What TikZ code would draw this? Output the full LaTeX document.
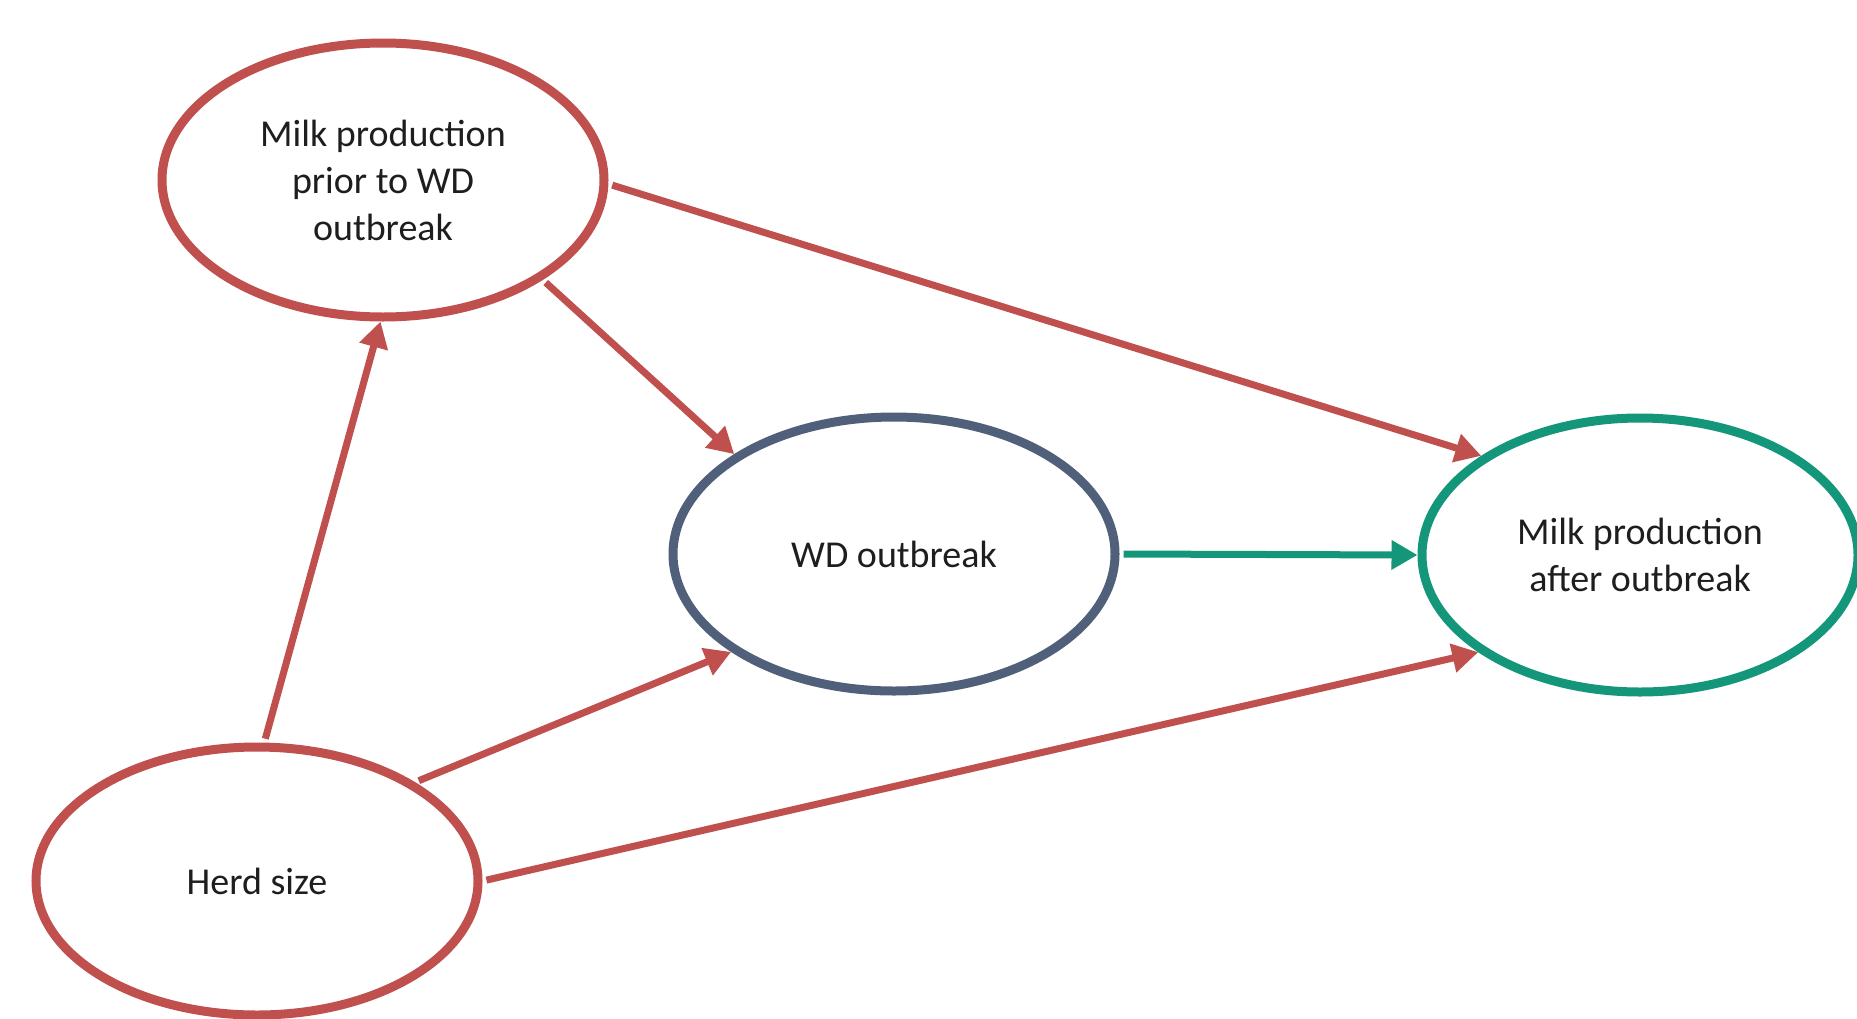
\documentclass[tikz,border=0pt]{standalone}
\usepackage{fontspec}
\setmainfont{Carlito}
\usetikzlibrary{arrows.meta,shapes.geometric}
\definecolor{linkred}{RGB}{192,80,77}
\definecolor{slate}{RGB}{80,96,122}
\definecolor{teal}{RGB}{20,150,122}
\definecolor{textdark}{RGB}{30,30,30}
\pgfdeclarelayer{back}
\pgfsetlayers{back,main}
\begin{document}
\begin{tikzpicture}[x=1pt,y=-1pt,
  var/.style={ellipse, draw=linkred, line width=9pt, fill=white, inner sep=0pt,
    align=center, text=textdark, font=\fontsize{38}{47}\selectfont,
    minimum width=442pt, minimum height=274pt},
  link/.style={line width=7pt, draw=linkred, shorten <=4pt,
    -{Triangle[length=26pt,width=28pt]}},
  greenlink/.style={link, draw=teal}]
\useasboundingbox (0,0) rectangle (1857,1018);

% variables of the causal diagram
\node[var] (prior) at (383,180) {Milk production\\prior to WD\\outbreak};
\node[var, draw=slate] (wd) at (894,554) {WD outbreak};
\node[var, draw=teal, minimum width=436pt] (after) at (1640,555) {Milk production\\after outbreak};
\node[var, minimum height=268pt] (herd) at (257,881) {Herd size};

% causal links, kept behind the ellipses
\begin{pgfonlayer}{back}
\fill[white] (0,0) rectangle (1857,1018);
\draw[link] (herd.87) -- (prior.269);
\draw[link] (herd.32) -- (wd.211);
\draw[link] (herd.0) -- (after.211.5);
\draw[link] (prior.-32.5) -- (wd.148.4);
\draw[link] (prior.-1) -- (after.148.3);
\draw[greenlink] (wd.0) -- (after.180);
\end{pgfonlayer}
\end{tikzpicture}
\end{document}
